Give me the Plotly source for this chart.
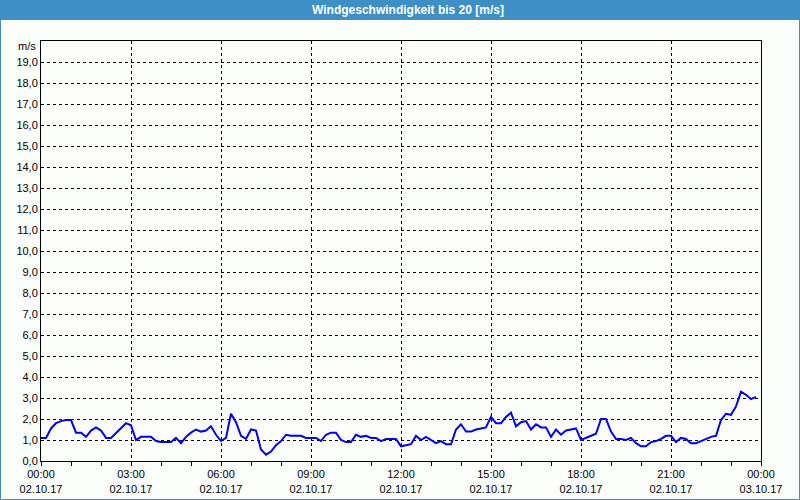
import plotly.graph_objects as go

times = ["00:00","00:10","00:20","00:30","00:40","00:50","01:00","01:10","01:20","01:30","01:40","01:50",
         "02:00","02:10","02:20","02:30","02:40","02:50","03:00","03:10","03:20","03:30","03:40","03:50",
         "04:00","04:10","04:20","04:30","04:40","04:50","05:00","05:10","05:20","05:30","05:40","05:50",
         "06:00","06:10","06:20","06:30","06:40","06:50","07:00","07:10","07:20","07:30","07:40","07:50",
         "08:00","08:10","08:20","08:30","08:40","08:50","09:00","09:10","09:20","09:30","09:40","09:50",
         "10:00","10:10","10:20","10:30","10:40","10:50","11:00","11:10","11:20","11:30","11:40","11:50",
         "12:00","12:10","12:20","12:30","12:40","12:50","13:00","13:10","13:20","13:30","13:40","13:50",
         "14:00","14:10","14:20","14:30","14:40","14:50","15:00","15:10","15:20","15:30","15:40","15:50",
         "16:00","16:10","16:20","16:30","16:40","16:50","17:00","17:10","17:20","17:30","17:40","17:50",
         "18:00","18:10","18:20","18:30","18:40","18:50","19:00","19:10","19:20","19:30","19:40","19:50",
         "20:00","20:10","20:20","20:30","20:40","20:50","21:00","21:10","21:20","21:30","21:40","21:50",
         "22:00","22:10","22:20","22:30","22:40","22:50","23:00","23:10","23:20","23:30","23:40","23:50"]

speed = [1.1,1.1,1.55,1.8,1.9,1.95,1.95,1.35,1.35,1.15,1.45,1.6,
         1.45,1.1,1.1,1.35,1.6,1.8,1.7,1.0,1.15,1.15,1.15,0.95,
         0.9,0.9,0.9,1.1,0.85,1.15,1.35,1.5,1.4,1.45,1.65,1.25,
         0.95,1.1,2.25,1.85,1.2,1.05,1.5,1.45,0.55,0.3,0.45,0.75,
         0.95,1.25,1.2,1.2,1.2,1.1,1.1,1.1,0.95,1.25,1.35,1.35,
         1.0,0.9,0.9,1.25,1.15,1.2,1.1,1.1,0.95,1.05,1.05,1.05,
         0.7,0.75,0.8,1.2,1.0,1.15,1.0,0.85,0.95,0.8,0.8,1.5,
         1.75,1.4,1.4,1.5,1.55,1.6,2.1,1.8,1.8,2.1,2.3,1.65,
         1.85,1.9,1.5,1.75,1.6,1.6,1.15,1.5,1.25,1.45,1.5,1.55,
         1.0,1.1,1.2,1.3,2.0,2.0,1.4,1.05,1.05,1.0,1.1,0.85,
         0.7,0.7,0.9,0.95,1.05,1.2,1.2,0.9,1.1,1.05,0.85,0.85,
         0.95,1.05,1.15,1.2,1.95,2.25,2.2,2.6,3.3,3.15,2.95,3.05]

x_tickvals = ["2017-10-02 00:00","2017-10-02 03:00","2017-10-02 06:00","2017-10-02 09:00",
              "2017-10-02 12:00","2017-10-02 15:00","2017-10-02 18:00","2017-10-02 21:00",
              "2017-10-03 00:00"]
x_ticktext = ["00:00<br>02.10.17","03:00<br>02.10.17","06:00<br>02.10.17","09:00<br>02.10.17",
              "12:00<br>02.10.17","15:00<br>02.10.17","18:00<br>02.10.17","21:00<br>02.10.17",
              "00:00<br>03.10.17"]
y_tickvals = list(range(0, 20))
y_ticktext = ["%d,0" % v for v in y_tickvals]

title = "Windgeschwindigkeit bis 20 [m/s]"
unit = "m/s"

x = ["2017-10-02 " + t for t in times]

L, R, T, B = 41, 39, 41, 39
W, H = 800, 500
pw, ph = W - L - R, H - T - B

def px(v):
    return (v - L) / pw

def py(v):
    return (H - B - v) / ph

fig = go.Figure()
fig.add_trace(go.Scatter(x=x, y=speed, mode="lines",
                         line=dict(color="#0000EE", width=2), hoverinfo="skip"))

font = dict(family="Liberation Sans, Arial, sans-serif", size=11, color="#000000")

fig.update_layout(
    width=W, height=H,
    margin=dict(l=L, r=R, t=T, b=B, autoexpand=False),
    paper_bgcolor="#FCFEFC", plot_bgcolor="#FCFEFC",
    showlegend=False,
    font=font,
    xaxis=dict(type="date", range=["2017-10-02 00:00", "2017-10-03 00:00"],
               tickvals=x_tickvals, ticktext=x_ticktext, ticks="",
               showgrid=True, gridcolor="#000000", gridwidth=1, griddash="3px,3px",
               showline=True, linecolor="#000000", linewidth=1, mirror=True,
               minor=dict(dtick=3600000, ticks="outside", ticklen=4, tickcolor="#000000",
                          showgrid=False),
               zeroline=False, tickfont=font, automargin=False, ticklabelstandoff=3),
    yaxis=dict(range=[0, 20], tickvals=y_tickvals, ticktext=y_ticktext, ticks="",
               showgrid=True, gridcolor="#000000", gridwidth=1, griddash="3px,3px",
               showline=True, linecolor="#000000", linewidth=1, mirror=True,
               zeroline=False, tickfont=font, automargin=False),
)

# title bar
fig.add_shape(type="rect", xref="paper", yref="paper",
              x0=px(0), x1=px(W), y0=py(20), y1=py(0),
              fillcolor="#3D8FC6", line=dict(width=0), layer="above")
# window border
fig.add_shape(type="rect", xref="paper", yref="paper",
              x0=px(0.5), x1=px(W - 0.5), y0=py(H - 0.5), y1=py(0.5),
              line=dict(color="#3D8FC6", width=1), fillcolor="rgba(0,0,0,0)", layer="above")

fig.add_annotation(text="<b>" + title + "</b>", xref="paper", yref="paper",
                   x=px(408), y=py(10), xanchor="center", yanchor="middle", showarrow=False,
                   font=dict(family="Liberation Sans, Arial, sans-serif", size=12, color="#FFFFFF"))
fig.add_annotation(text=unit, xref="paper", yref="paper",
                   x=px(38), y=py(46), xanchor="right", yanchor="middle", showarrow=False,
                   font=font)

fig.write_html("out.html", config={"displayModeBar": False},
               post_script="document.body.style.margin='0';document.body.style.padding='0';")
